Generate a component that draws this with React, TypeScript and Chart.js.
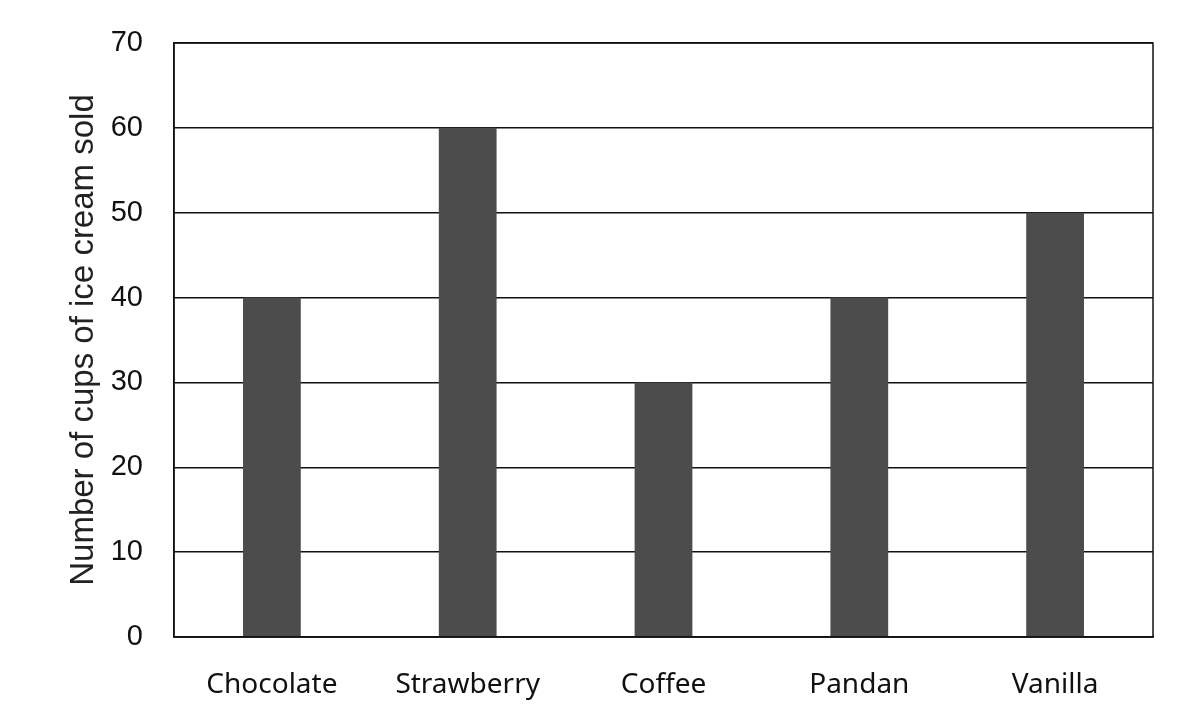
import React, { useEffect, useRef } from "react";
import { Chart, registerables } from "chart.js";

Chart.register(...registerables);

const flavours = ["Chocolate", "Strawberry", "Coffee", "Pandan", "Vanilla"];
const cupsSold = [40, 60, 30, 40, 50];

// draws the closed frame round the plot area
const frame = {
    id: "frame",
    afterDraw(chart: Chart) {
        const { ctx, chartArea } = chart;
        ctx.save();
        ctx.strokeStyle = "#111";
        ctx.lineWidth = 1.5;
        ctx.strokeRect(chartArea.left, chartArea.top, chartArea.right - chartArea.left, chartArea.bottom - chartArea.top);
        ctx.restore();
    },
};

const App: React.FC = () => {
    const canvasRef = useRef<HTMLCanvasElement | null>(null);

    useEffect(() => {
        if (!canvasRef.current) return;
        const chart = new Chart(canvasRef.current, {
            type: "bar",
            data: {
                labels: flavours,
                datasets: [
                    {
                        label: "Cups sold",
                        data: cupsSold,
                        backgroundColor: "#4c4c4c",
                        barPercentage: 0.295,
                        categoryPercentage: 1,
                    },
                ],
            },
            options: {
                responsive: true,
                maintainAspectRatio: false,
                animation: false,
                layout: { padding: { left: 0, top: 43, right: 28, bottom: 0 } },
                plugins: {
                    legend: { display: false },
                    tooltip: { enabled: false },
                },
                scales: {
                    x: {
                        grid: { display: false },
                        border: { color: "#111", width: 1.5 },
                        ticks: {
                            color: "#111",
                            padding: 23,
                            font: { family: "'Noto Sans', sans-serif", size: 28 },
                        },
                        afterFit: (scale) => {
                            scale.height = 72;
                        },
                    },
                    y: {
                        min: 0,
                        max: 70,
                        ticks: {
                            stepSize: 10,
                            color: "#111",
                            padding: 31,
                            font: { family: "'Liberation Sans', Arial, sans-serif", size: 29 },
                        },
                        grid: { color: "#111", lineWidth: 1.5, drawTicks: false },
                        border: { color: "#111", width: 1.5 },
                        title: {
                            display: true,
                            text: "Number of cups of ice cream sold",
                            color: "#222",
                            padding: { top: 64, bottom: 0 },
                            font: { family: "'Liberation Sans', Arial, sans-serif", size: 33 },
                        },
                        afterFit: (scale) => {
                            scale.width = 174;
                            scale.paddingTop = 0;
                            scale.paddingBottom = 0;
                        },
                    },
                },
            },
            plugins: [frame],
        });
        return () => chart.destroy();
    }, []);

    return (
        <div style={{ position: "absolute", left: 0, top: 0, width: 1181, height: 709, background: "#fff" }}>
            <canvas ref={canvasRef} />
        </div>
    );
};

export default App;
